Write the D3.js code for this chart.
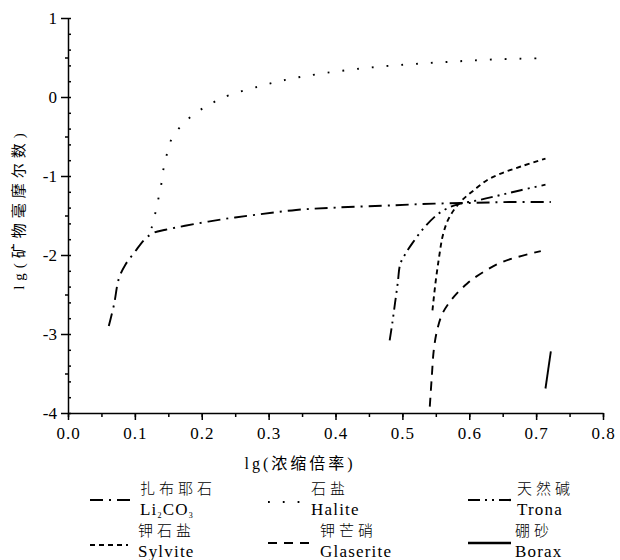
<!DOCTYPE html>
<html>
<head>
<meta charset="utf-8">
<script src="https://cdn.jsdelivr.net/npm/d3@7"></script>
<style>
  body { margin: 0; background: #fff; }
  .axis path, .axis line { stroke: #000; stroke-width: 1.5; }
  .curve { fill: none; stroke: #000; stroke-width: 1.9; }
</style>
</head>
<body>
<script>
// series (lg concentration ratio, lg mineral mmol)
var li2co3 = [[0.061,-2.90],[0.069,-2.62],[0.076,-2.30],[0.086,-2.12],[0.100,-1.96],[0.115,-1.80],[0.128,-1.72],
  [0.146,-1.68],[0.175,-1.63],[0.229,-1.55],[0.282,-1.49],[0.341,-1.43],[0.400,-1.40],
  [0.489,-1.37],[0.548,-1.35],[0.607,-1.34],[0.660,-1.33],[0.722,-1.33]];
var halite = [[0.125,-1.66],[0.128,-1.55],[0.132,-1.42],[0.136,-1.25],[0.140,-1.08],[0.143,-0.90],
  [0.148,-0.72],[0.155,-0.53],[0.172,-0.34],[0.195,-0.18],[0.217,-0.07],[0.240,0.02],
  [0.284,0.13],[0.327,0.22],[0.370,0.285],[0.437,0.36],[0.504,0.41],[0.570,0.445],
  [0.635,0.475],[0.706,0.49]];
var trona = [[0.481,-3.08],[0.485,-2.86],[0.489,-2.61],[0.493,-2.36],[0.497,-2.11],[0.505,-1.98],
  [0.515,-1.85],[0.532,-1.66],[0.552,-1.49],[0.572,-1.39],[0.587,-1.35],[0.617,-1.30],
  [0.647,-1.24],[0.677,-1.18],[0.714,-1.11]];
var sylvite = [[0.545,-2.70],[0.550,-2.32],[0.555,-2.02],[0.560,-1.77],[0.567,-1.58],[0.577,-1.43],
  [0.590,-1.30],[0.607,-1.18],[0.627,-1.05],[0.647,-0.97],[0.677,-0.88],[0.714,-0.78]];
var glaserite = [[0.541,-3.92],[0.544,-3.54],[0.547,-3.20],[0.552,-2.95],[0.560,-2.74],[0.575,-2.55],
  [0.597,-2.36],[0.622,-2.21],[0.652,-2.08],[0.707,-1.95]];
var borax = [[0.714,-3.69],[0.722,-3.22]];

var xTicks = [0.0,0.1,0.2,0.3,0.4,0.5,0.6,0.7,0.8];
var yTicks = [1,0,-1,-2,-3,-4];

var serif = '"Liberation Serif", "Times New Roman", "Noto Sans CJK SC", serif';
var zhFont = '"Noto Sans CJK SC", "Liberation Serif", serif';

var width = 620, height = 560;
var svg = d3.select('body').append('svg')
    .attr('width', width)
    .attr('height', height);

var scaleX = d3.scaleLinear().domain([0, 0.8]).range([68, 603]);
var scaleY = d3.scaleLinear().domain([-4, 1]).range([413, 18]);

//x axis
svg.append('g')
    .attr('class','axis')
    .attr('transform','translate(0,413)')
    .call(d3.axisBottom(scaleX).ticks(16).tickSize(4).tickFormat(''))
    .call(function(g){ g.select('.domain').remove(); });
svg.append('g')
    .attr('class','axis')
    .attr('transform','translate(0,413)')
    .call(d3.axisBottom(scaleX).tickValues(xTicks).tickSize(7).tickSizeOuter(0).tickFormat(d3.format('.1f')))
    .call(function(g){
        g.attr('font-family', serif);
        g.selectAll('text').attr('font-size', 17).attr('y', 26).attr('dy', 0)
          .attr('letter-spacing', 1);
    });

//y axis minor ticks
svg.append('g')
    .attr('class','axis')
    .attr('transform','translate(68,0)')
    .call(d3.axisRight(scaleY).tickValues(d3.range(-4, 1.01, 0.2)).tickSize(3).tickFormat(''))
    .call(function(g){ g.select('.domain').remove(); });
svg.append('g')
    .attr('class','axis')
    .attr('transform','translate(68,0)')
    .call(d3.axisLeft(scaleY).tickValues([0.5,-0.5,-1.5,-2.5,-3.5]).tickSize(3).tickFormat(''))
    .call(function(g){ g.select('.domain').remove(); });
svg.append('g')
    .attr('class','axis')
    .attr('transform','translate(68,0)')
    .call(d3.axisLeft(scaleY).tickValues(yTicks).tickSize(7).tickSizeOuter(0).tickFormat(d3.format('d')))
    .call(function(g){
        g.attr('font-family', serif);
        g.selectAll('text').attr('font-size', 17).attr('dy', '0.33em').attr('x', -11)
          .text(function(d){ return d < 0 ? '-' + Math.abs(d) : d; });
    });

//axis titles
svg.append('text')
    .attr('x', 300).attr('y', 469)
    .attr('text-anchor','middle')
    .attr('font-family', serif)
    .attr('font-size', 16)
    .attr('letter-spacing', 3)
    .text('lg(浓缩倍率)');
svg.append('text')
    .attr('transform','translate(24,209) rotate(-90)')
    .attr('text-anchor','middle')
    .attr('font-family', serif)
    .attr('font-size', 15)
    .attr('letter-spacing', 5)
    .text('lg(矿物毫摩尔数)');

//curves
var line = d3.line()
    .x(function(d){ return scaleX(d[0]); })
    .y(function(d){ return scaleY(d[1]); })
    .curve(d3.curveCatmullRom);

var series = [
  {name:'扎布耶石', en:'Li2CO3', data:li2co3, dash:'13,6,2,6'},
  {name:'石盐', en:'Halite', data:halite, dash:'1.8,13'},
  {name:'天然碱', en:'Trona', data:trona, dash:'12,5,2,5,2,5'},
  {name:'钾石盐', en:'Sylvite', data:sylvite, dash:'5,4'},
  {name:'钾芒硝', en:'Glaserite', data:glaserite, dash:'9,7'},
  {name:'硼砂', en:'Borax', data:borax, dash:null}
];

series.forEach(function(s){
    svg.append('path')
        .datum(s.data)
        .attr('class','curve')
        .attr('d', line)
        .style('stroke-dasharray', s.dash);
});

//legend
var legendPos = [
  {x1:90, x2:132, y:500, tx:140},
  {x1:268, x2:303, y:502, tx:311},
  {x1:468, x2:511, y:500, tx:517},
  {x1:90, x2:128, y:545, tx:138},
  {x1:268, x2:311, y:543, tx:320},
  {x1:468, x2:511, y:543, tx:515}
];

series.forEach(function(s, i){
    var p = legendPos[i];
    svg.append('line')
        .attr('class','curve')
        .attr('x1', p.x1).attr('x2', p.x2)
        .attr('y1', p.y).attr('y2', p.y)
        .style('stroke-width', i == 5 ? 2.4 : 2.2)
        .style('stroke-dasharray', s.dash);
    var base = i < 3 ? 494 : 536;
    svg.append('text')
        .attr('x', p.tx).attr('y', base)
        .attr('font-family', zhFont)
        .attr('font-weight', 300)
        .attr('font-size', 15)
        .attr('letter-spacing', 4)
        .text(s.name);
    var t = svg.append('text')
        .attr('x', p.tx).attr('y', base + 21)
        .attr('font-family', serif)
        .attr('font-size', 17)
        .attr('letter-spacing', 1.2);
    if(s.en == 'Li2CO3'){
        t.append('tspan').text('Li');
        t.append('tspan').attr('font-size', 8).attr('dy', 3).text('2');
        t.append('tspan').attr('dy', -3).text('CO');
        t.append('tspan').attr('font-size', 8).attr('dy', 3).text('3');
    } else {
        t.text(s.en);
    }
});
</script>
</body>
</html>
